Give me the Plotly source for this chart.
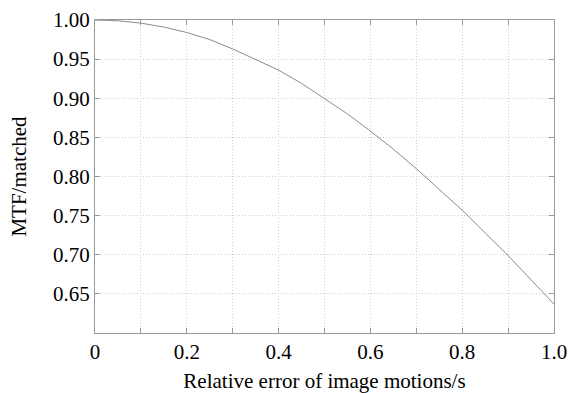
import plotly.graph_objects as go

rel_error = [0.0, 0.05, 0.1, 0.15, 0.2, 0.25, 0.3, 0.35, 0.4, 0.45, 0.5,
             0.55, 0.6, 0.65, 0.7, 0.75, 0.8, 0.85, 0.9, 0.95, 1.0]
mtf_matched = [1.0, 0.999, 0.996, 0.991, 0.984, 0.975, 0.963, 0.950, 0.936, 0.919, 0.900,
               0.880, 0.858, 0.835, 0.810, 0.784, 0.757, 0.728, 0.699, 0.668, 0.637]

x_tickvals = [0, 0.2, 0.4, 0.6, 0.8, 1.0]
x_ticktext = ["0", "0.2", "0.4", "0.6", "0.8", "1.0"]
y_tickvals = [0.65, 0.70, 0.75, 0.80, 0.85, 0.90, 0.95, 1.00]
y_ticktext = ["0.65", "0.70", "0.75", "0.80", "0.85", "0.90", "0.95", "1.00"]

FONT = "Liberation Serif, Times New Roman, serif"
GRID = "#cfcfcf"
FRAME = "#9a9a9a"
DOTS = "1px,2px"

fig = go.Figure()
fig.add_trace(go.Scatter(x=rel_error, y=mtf_matched, mode="lines",
                         line=dict(color="#8c8c8c", width=1), showlegend=False,
                         hoverinfo="skip"))

fig.update_layout(
    width=571, height=393,
    margin=dict(l=95, r=17, t=20, b=60),
    paper_bgcolor="white", plot_bgcolor="white",
    font=dict(family=FONT, size=21, color="black"),
)
fig.update_xaxes(
    range=[0, 1], tickvals=x_tickvals, ticktext=x_ticktext, automargin=False,
    showline=True, linecolor=FRAME, linewidth=1, mirror="allticks",
    ticks="inside", ticklen=5, tickcolor=FRAME,
    showgrid=True, gridcolor=GRID, griddash=DOTS, gridwidth=1,
    minor=dict(dtick=0.1, tick0=0, ticks="inside", ticklen=5, tickcolor=FRAME,
               showgrid=True, gridcolor=GRID, griddash=DOTS),
    zeroline=False,
    tickfont=dict(family=FONT, size=21),
    title=dict(text="Relative error of image motions/s", font=dict(family=FONT, size=21), standoff=22),
)
fig.update_yaxes(
    range=[0.6, 1.0], tickvals=y_tickvals, ticktext=y_ticktext, automargin=False,
    showline=True, linecolor=FRAME, linewidth=1, mirror="allticks",
    ticks="inside", ticklen=5, tickcolor=FRAME,
    showgrid=True, gridcolor=GRID, griddash=DOTS, gridwidth=1,
    zeroline=False,
    tickfont=dict(family=FONT, size=21),
    title=dict(text="MTF/matched", font=dict(family=FONT, size=21), standoff=20),
)

fig.write_html(
    "out.html",
    config={"displayModeBar": False},
    post_script="document.body.style.margin='0';document.body.style.overflow='hidden';",
)
